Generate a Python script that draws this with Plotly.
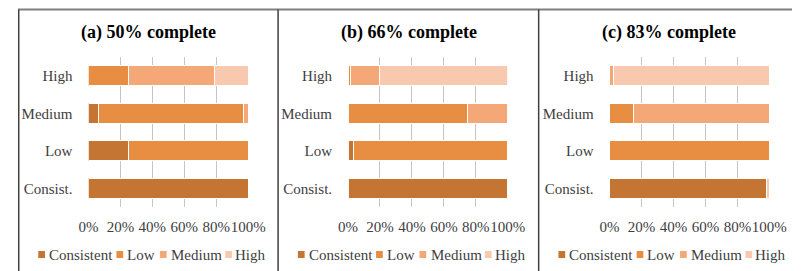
import plotly.graph_objects as go

# ---------------- data ----------------
categories = ["Consist.", "Low", "Medium", "High"]          # bottom -> top
series_names = ["Consistent", "Low", "Medium", "High"]
panel_titles = ["(a) 50% complete", "(b) 66% complete", "(c) 83% complete"]
x_tick_vals = [0, 20, 40, 60, 80, 100]
x_tick_labels = ["0%", "20%", "40%", "60%", "80%", "100%"]

# percentages per category [Consist., Low, Medium, High]
a_consistent = [100, 25, 6, 0]
a_low = [0, 75, 91, 25]
a_medium = [0, 0, 3, 54]
a_high = [0, 0, 0, 21]

b_consistent = [100, 3.5, 0, 0]
b_low = [0, 96.5, 75, 1.5]
b_medium = [0, 0, 25, 18]
b_high = [0, 0, 0, 80.5]

c_consistent = [98.5, 0, 0, 0]
c_low = [0, 100, 15, 0]
c_medium = [0, 0, 85, 2.5]
c_high = [1.5, 0, 0, 97.5]

panels = [
    [a_consistent, a_low, a_medium, a_high],
    [b_consistent, b_low, b_medium, b_high],
    [c_consistent, c_low, c_medium, c_high],
]

# ---------------- style ----------------
colors = ["#C47534", "#E88E42", "#F5A877", "#F8C9AF"]
FONT = "Liberation Serif, Times New Roman, serif"
# the page body has an 8px margin: figure is sized so it fills the window
OFF = 8
W, H = 810 - OFF, 271 - OFF


def px(x):
    return (x - OFF) / W


def py(y):
    return 1 - (y - OFF) / H


plot_left = [81, 350, 621]
plot_width = 165.5
plot_top, plot_bottom = 57, 207
panel_shift = [0, 269, 539]

fig = go.Figure()
layout_axes = {}
for i, series in enumerate(panels):
    sfx = "" if i == 0 else str(i + 1)
    for name, vals, col in zip(series_names, series, colors):
        fig.add_trace(go.Bar(
            y=categories, x=vals, name=name, orientation="h",
            marker=dict(color=col, line=dict(color="white", width=1)),
            xaxis="x" + sfx, yaxis="y" + sfx, showlegend=False,
        ))
    layout_axes["xaxis" + sfx] = dict(
        domain=[px(plot_left[i]), px(plot_left[i] + plot_width)],
        anchor="y" + sfx, range=[0, 100], tickmode="array",
        tickvals=x_tick_vals, ticktext=x_tick_labels, tickangle=0,
        showgrid=True, gridcolor="#C4C4C4", gridwidth=1,
        zeroline=False, showline=False, fixedrange=True,
        tickfont=dict(family=FONT, size=15, color="#404040"),
        ticks="outside", ticklen=6, tickcolor="rgba(0,0,0,0)",
    )
    layout_axes["yaxis" + sfx] = dict(
        domain=[py(plot_bottom), py(plot_top)], anchor="x" + sfx,
        type="category", categoryorder="array", categoryarray=categories,
        range=[-0.5, 3.5], showgrid=False, zeroline=False, showline=False,
        tickfont=dict(family=FONT, size=15, color="#404040"),
        ticks="outside", ticklen=12, tickcolor="rgba(0,0,0,0)",
    )

shapes = []
# panel frame lines
top_y = py(9.5)
shapes.append(dict(type="line", xref="paper", yref="paper", x0=px(8), x1=1,
                   y0=top_y, y1=top_y, line=dict(color="#7F7F7F", width=2)))
for xv in [8.75, 277.5, 547.5]:
    shapes.append(dict(type="line", xref="paper", yref="paper", x0=px(xv), x1=px(xv),
                       y0=0, y1=top_y, line=dict(color="#404040", width=1.5)))

annotations = []
title_centers = [143.5, 413, 683]
for i, t in enumerate(panel_titles):
    annotations.append(dict(text="<b>%s</b>" % t, xref="paper", yref="paper",
                            x=px(title_centers[i]), y=py(32), xanchor="center",
                            yanchor="middle", showarrow=False,
                            font=dict(family=FONT, size=18, color="black")))

# legends (manual, compact like the source)
sq_x = [29, 110, 155, 222.7]
txt_x = [39, 120, 165.7, 232]
for i in range(3):
    s = panel_shift[i]
    for name, col, sx, tx in zip(series_names, colors, sq_x, txt_x):
        shapes.append(dict(type="rect", xref="paper", yref="paper",
                           x0=px(sx + s), x1=px(sx + s + 7), y0=py(258), y1=py(251),
                           fillcolor=col, line=dict(width=0)))
        annotations.append(dict(text=name, xref="paper", yref="paper",
                                x=px(tx + s - 1), y=py(254.5), xanchor="left",
                                yanchor="middle", showarrow=False,
                                font=dict(family=FONT, size=15, color="#404040")))

fig.update_layout(
    width=W, height=H, margin=dict(l=0, r=0, t=0, b=0),
    paper_bgcolor="white", plot_bgcolor="white",
    barmode="stack", bargap=0.47, showlegend=False,
    shapes=shapes, annotations=annotations, **layout_axes,
)

fig.write_html("out.html")
